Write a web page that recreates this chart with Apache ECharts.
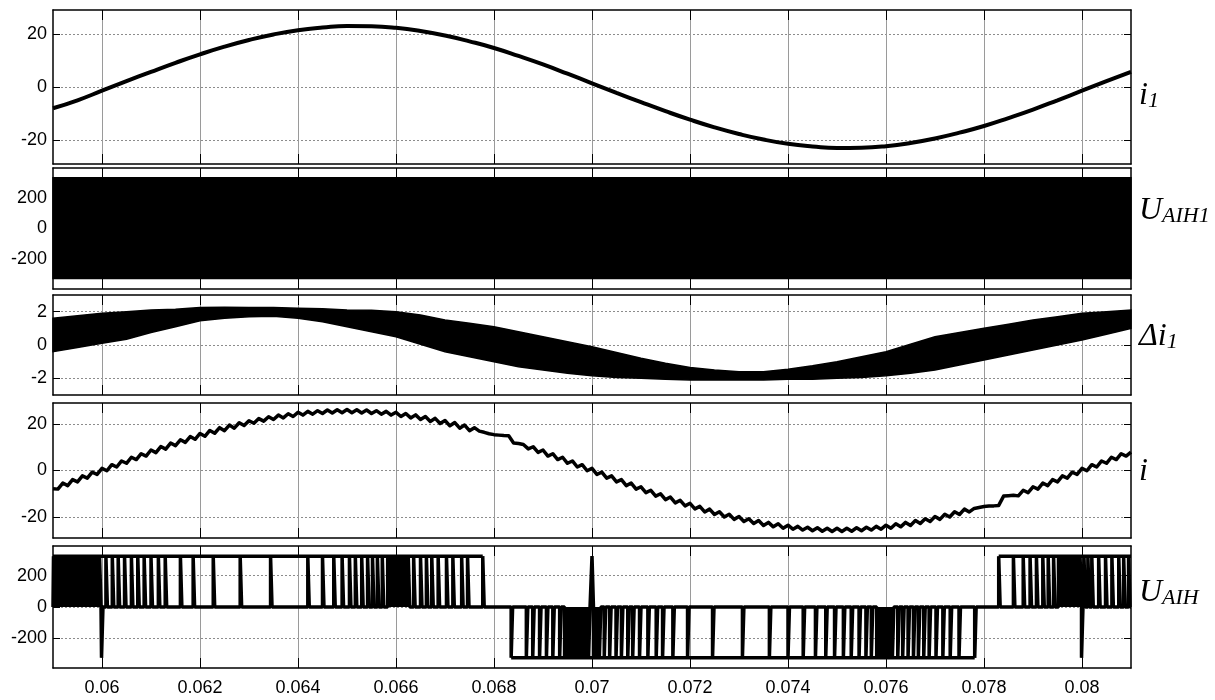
<!DOCTYPE html>
<html>
<head>
<meta charset="utf-8">
<script src="https://cdn.jsdelivr.net/npm/echarts@6/dist/echarts.min.js"></script>
<style>
  html, body { margin: 0; padding: 0; background: #fff; }
  #chart { width: 1215px; height: 700px; }
</style>
</head>
<body>
<div id="chart"></div>
<script>
// time axis (s)
var tMin = 0.059, tMax = 0.081;
var xTicks = [0.06, 0.062, 0.064, 0.066, 0.068, 0.07, 0.072, 0.074, 0.076, 0.078, 0.08];

// panel 1: i1, one sample every 0.5 ms
var i1Start = 0.059, i1Step = 0.0005;
var i1 = [-8.0, -5.0, -1.4, 2.2, 5.7, 9.1, 12.3, 15.2, 17.7, 19.8, 21.4, 22.4, 23.0, 22.9, 22.3,
  21.1, 19.4, 17.2, 14.7, 11.7, 8.5, 5.0, 1.4, -2.2, -5.7, -9.1, -12.3, -15.2, -17.7, -19.8,
  -21.4, -22.4, -23.0, -22.9, -22.3, -21.1, -19.4, -17.2, -14.7, -11.7, -8.5, -5.0, -1.4, 2.2, 5.7];

// panel 2: U_AIH1, switching too fast to resolve -> envelope
var uaih1T = [0.059, 0.081];
var uaih1Hi = [335, 335];
var uaih1Lo = [-330, -330];

// panel 3: delta i1 ripple envelope, every 0.5 ms
var di1Start = 0.059, di1Step = 0.0005;
var di1Hi = [1.6, 1.75, 1.9, 2.0, 2.1, 2.15, 2.25, 2.26, 2.25, 2.25,
  2.2, 2.18, 2.1, 2.08, 2.0, 1.8, 1.5, 1.3, 1.1, 0.8,
  0.5, 0.2, -0.1, -0.45, -0.8, -1.1, -1.35, -1.5, -1.6, -1.6,
  -1.45, -1.25, -1.0, -0.7, -0.4, 0.05, 0.5, 0.75, 1.0, 1.25,
  1.5, 1.7, 1.9, 2.0, 2.1];
var di1Lo = [-0.4, -0.15, 0.1, 0.35, 0.75, 1.1, 1.45, 1.6, 1.7, 1.72,
  1.6, 1.4, 1.1, 0.8, 0.5, 0.05, -0.4, -0.7, -1.0, -1.3,
  -1.5, -1.7, -1.85, -1.95, -2.0, -2.05, -2.1, -2.1, -2.1, -2.1,
  -2.05, -2.05, -2.0, -1.95, -1.85, -1.7, -1.5, -1.2, -0.9, -0.6,
  -0.3, 0.0, 0.3, 0.65, 1.0];

// panel 4: i, every 0.1 ms
var iStart = 0.059, iStep = 0.0001;
var iVals = [
  -7.8, -8.0, -5.4, -6.5, -3.9, -4.9, -2.3, -3.3, -0.7, -1.7,
  0.9, -0.1, 2.5, 1.5, 4.1, 3.1, 5.7, 4.7, 7.2, 6.2,
  8.8, 7.7, 10.3, 9.2, 11.8, 10.7, 13.2, 12.1, 14.6, 13.4,
  15.9, 14.7, 17.2, 16.0, 18.4, 17.1, 19.5, 18.2, 20.5, 19.3,
  21.4, 20.3, 22.3, 21.2, 23.1, 21.9, 23.8, 22.6, 24.4, 23.2,
  25.0, 23.8, 25.4, 24.2, 25.7, 24.5, 26.0, 24.7, 26.1, 24.8,
  26.2, 24.8, 26.1, 24.7, 26.0, 24.5, 25.7, 24.2, 25.4, 23.8,
  25.0, 23.2, 24.5, 22.6, 23.9, 21.9, 23.2, 21.1, 22.4, 20.2,
  21.5, 19.2, 20.6, 18.2, 19.5, 17.1, 18.4, 16.9, 16.4, 15.8,
  15.4, 15.2, 15.0, 14.9, 11.8, 11.6, 11.2, 9.3, 10.2, 7.8,
  8.8, 6.2, 7.2, 4.7, 5.7, 3.1, 4.1, 1.5, 2.5, -0.1,
  0.9, -1.7, -0.7, -3.3, -2.3, -4.9, -3.9, -6.5, -5.4, -8.0,
  -7.0, -9.5, -8.5, -11.0, -10.0, -12.5, -11.4, -13.9, -12.8, -15.2,
  -14.1, -16.5, -15.4, -17.8, -16.6, -18.9, -17.7, -20.0, -18.8, -21.0,
  -19.8, -21.9, -20.7, -22.8, -21.5, -23.6, -22.3, -24.2, -22.9, -24.8,
  -23.5, -25.2, -24.0, -25.6, -24.4, -25.9, -24.6, -26.1, -24.8, -26.2,
  -24.8, -26.2, -24.8, -26.1, -24.6, -25.9, -24.4, -25.6, -24.0, -25.2,
  -23.5, -24.8, -22.9, -24.2, -22.3, -23.6, -21.5, -22.8, -20.7, -21.9,
  -19.8, -21.0, -18.8, -20.0, -17.7, -18.9, -16.6, -17.8, -16.3, -15.9,
  -15.5, -15.3, -15.2, -15.0, -11.0, -10.8, -10.6, -10.9, -8.5, -9.5,
  -7.0, -8.0, -5.4, -6.5, -3.9, -4.9, -2.3, -3.3, -0.7, -1.7,
  0.9, -0.1, 2.5, 1.5, 4.1, 3.1, 5.7, 4.7, 7.2, 6.2,
  7.9];

// panel 5: U_AIH switching instants (s)
var uaihLevel = 325;
var uaihUp = [
  0.05901, 0.05904, 0.05907, 0.05911, 0.05914, 0.05918, 0.05922, 0.05926, 0.05930, 0.05934,
  0.05938, 0.05941, 0.05944, 0.05947,
  0.05950, 0.05953, 0.05956, 0.05959, 0.05962, 0.05965, 0.05968, 0.05971, 0.05974, 0.05977,
  0.05980, 0.05983, 0.05986, 0.05989, 0.05992, 0.05995,
  0.06008, 0.06021, 0.06033, 0.06046, 0.06060, 0.06073, 0.06086, 0.06100, 0.06115, 0.06129,
  0.06160, 0.06186, 0.06227, 0.06282, 0.06344,
  0.06420, 0.06450, 0.06473, 0.06490, 0.06505, 0.06517, 0.06530, 0.06542, 0.06552, 0.06562,
  0.06572, 0.06583, 0.06586, 0.06589, 0.06592, 0.06595, 0.06598, 0.06601, 0.06604, 0.06607,
  0.06610, 0.06613, 0.06616, 0.06619, 0.06622, 0.06625, 0.06636, 0.06650, 0.06662, 0.06673,
  0.06686, 0.06703, 0.06716, 0.06734, 0.06746, 0.06777,
  0.07000,
  0.07830, 0.07860, 0.07880, 0.07894, 0.07907, 0.07920, 0.07931, 0.07942, 0.07952, 0.07956,
  0.07960, 0.07964, 0.07968, 0.07972, 0.07976, 0.07980, 0.07984, 0.07988, 0.07992, 0.07996,
  0.08004, 0.08012, 0.08020, 0.08034, 0.08048, 0.08061, 0.08075, 0.08085, 0.08095];
var uaihDown = [
  0.05999,
  0.06835, 0.06866, 0.06879, 0.06893, 0.06907, 0.06920, 0.06934, 0.06944, 0.06951, 0.06958,
  0.06965, 0.06972, 0.06979, 0.06986, 0.06993, 0.07003, 0.07008, 0.07015, 0.07025, 0.07036,
  0.07049, 0.07060, 0.07073, 0.07083, 0.07097, 0.07114, 0.07131, 0.07144, 0.07165, 0.07195,
  0.07246, 0.07307, 0.07362, 0.07400, 0.07431, 0.07456, 0.07477, 0.07495, 0.07513, 0.07529,
  0.07545, 0.07559, 0.07570, 0.07581, 0.07584, 0.07587, 0.07590, 0.07593, 0.07596, 0.07599,
  0.07602, 0.07605, 0.07608, 0.07613, 0.07624, 0.07634, 0.07645, 0.07656, 0.07666, 0.07677,
  0.07688, 0.07702, 0.07716, 0.07731, 0.07749, 0.07781,
  0.07999];
// spans where the trace also runs along the switched level
var uaihRails = [[0.059, 0.06777, 325], [0.06835, 0.07781, -325], [0.0783, 0.081, 325]];

var panels = [
  { top: 10, height: 154, min: -29, max: 29, ticks: [-20, 0, 20], name: '{m|i}{s|1}', ly: 80 },
  { top: 168, height: 121, min: -400, max: 400, ticks: [-200, 0, 200], name: '{m|U}{s|AIH1}', ly: 195 },
  { top: 295, height: 100, min: -3, max: 3, ticks: [-2, 0, 2], name: '{m|\u0394i}{s|1}', ly: 321 },
  { top: 403, height: 135, min: -29, max: 29, ticks: [-20, 0, 20], name: '{m|i}', ly: 456 },
  { top: 546, height: 122, min: -390, max: 390, ticks: [-200, 0, 200], name: '{m|U}{s|AIH}', ly: 577 }
];

function sampled(start, step, vals) {
  return vals.map(function (v, k) { return [+(start + k * step).toFixed(6), v]; });
}

var grids = [], xAxes = [], yAxes = [], series = [], graphics = [];
var black = '#000';
panels.forEach(function (p, g) {
  grids.push({ left: 53, right: 84, top: p.top, height: p.height, outerBoundsMode: 'none' });
  ['bottom', 'top'].forEach(function (pos) {
    xAxes.push({
      gridIndex: g, type: 'value', position: pos, min: tMin, max: tMax,
      axisLine: { show: true, onZero: false, lineStyle: { color: black, width: 1.5 } },
      axisTick: { show: true, inside: true, length: 10, customValues: xTicks, lineStyle: { color: black } },
      axisLabel: {
        show: pos === 'bottom' && g === panels.length - 1, customValues: xTicks, margin: 11,
        color: black, fontSize: 18, fontFamily: 'Liberation Sans',
        formatter: function (v) { return String(Math.round(v * 1000) / 1000); }
      },
      splitLine: { show: pos === 'bottom', lineStyle: { color: '#9a9a9a', width: 1 } }
    });
  });
  ['left', 'right'].forEach(function (pos) {
    yAxes.push({
      gridIndex: g, type: 'value', position: pos, min: p.min, max: p.max,
      axisLine: { show: true, onZero: false, lineStyle: { color: black, width: 1.5 } },
      axisTick: { show: true, inside: true, length: 7, customValues: p.ticks, lineStyle: { color: black } },
      axisLabel: {
        show: pos === 'left', customValues: p.ticks, margin: 6,
        color: black, fontSize: 18, fontFamily: 'Liberation Sans'
      },
      splitLine: { show: pos === 'left', lineStyle: { color: '#8c8c8c', type: [2, 2], width: 1 } }
    });
  });
  graphics.push({
    type: 'text', x: 1139, y: p.ly,
    style: {
      text: p.name,
      rich: {
        m: { fontFamily: 'Liberation Serif', fontStyle: 'italic', fontSize: 32, fill: black, verticalAlign: 'bottom' },
        s: { fontFamily: 'Liberation Serif', fontStyle: 'italic', fontSize: 22, fill: black, verticalAlign: 'bottom' }
      }
    }
  });
});

function onGrid(g, extra) {
  var s = { type: 'line', xAxisIndex: 2 * g, yAxisIndex: 2 * g, showSymbol: false, animation: false, silent: true };
  for (var k in extra) s[k] = extra[k];
  return s;
}

// filled band between an upper and a lower trace
function band(g, ts, hi, lo) {
  return {
    type: 'custom', xAxisIndex: 2 * g, yAxisIndex: 2 * g, silent: true, animation: false,
    data: [[ts[0], lo[0]]],
    renderItem: function (params, api) {
      var pts = [], k;
      for (k = 0; k < ts.length; k++) pts.push(api.coord([ts[k], hi[k]]));
      for (k = ts.length - 1; k >= 0; k--) pts.push(api.coord([ts[k], lo[k]]));
      return { type: 'polygon', shape: { points: pts }, style: { fill: black, stroke: black, lineWidth: 1.5 } };
    }
  };
}

// 1: i1
series.push(onGrid(0, {
  data: sampled(i1Start, i1Step, i1), smooth: true,
  lineStyle: { color: black, width: 4 }
}));

// 2: U_AIH1 band
series.push(band(1, uaih1T, uaih1Hi, uaih1Lo));

// 3: delta i1 band
var di1T = di1Hi.map(function (v, k) { return +(di1Start + k * di1Step).toFixed(6); });
series.push(band(2, di1T, di1Hi, di1Lo));

// 4: i
series.push(onGrid(3, {
  data: sampled(iStart, iStep, iVals),
  lineStyle: { color: black, width: 3.5, join: 'round' }
}));

// 5: U_AIH pulses
var ev = uaihUp.map(function (t) { return [t, uaihLevel]; })
  .concat(uaihDown.map(function (t) { return [t, -uaihLevel]; }))
  .sort(function (a, b) { return a[0] - b[0]; });
var w = 0.00003;
var pwm = [[tMin, 0]];
ev.forEach(function (e) {
  pwm.push([e[0], 0], [e[0], e[1]], [e[0] + w, e[1]], [e[0] + w, 0]);
});
pwm.push([tMax, 0]);
series.push(onGrid(4, { data: pwm, lineStyle: { color: black, width: 3.5 } }));
uaihRails.forEach(function (r) {
  series.push(onGrid(4, { data: [[r[0], r[2]], [r[1], r[2]]], lineStyle: { color: black, width: 3.5 } }));
});

var chart = echarts.init(document.getElementById('chart'), null, { renderer: 'canvas' });
chart.setOption({
  animation: false,
  backgroundColor: '#fff',
  grid: grids,
  xAxis: xAxes,
  yAxis: yAxes,
  series: series,
  graphic: graphics
});
</script>
</body>
</html>
